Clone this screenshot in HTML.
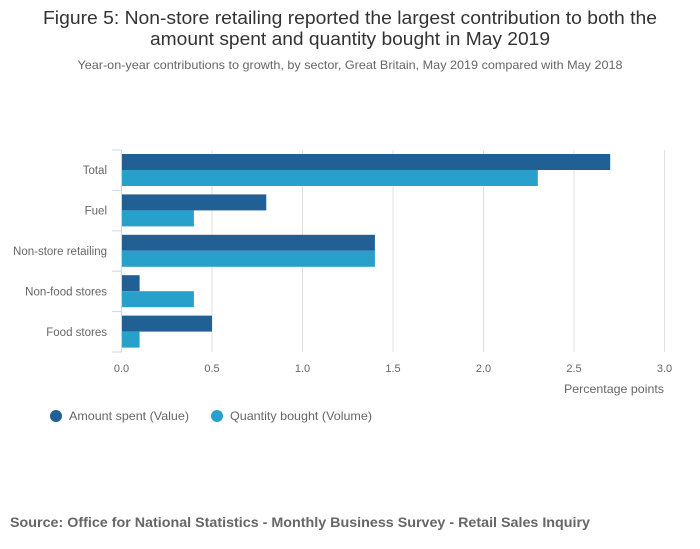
<!DOCTYPE html>
<html><head><meta charset="utf-8">
<style>
body{margin:0;background:#fff;font-family:"Liberation Sans",sans-serif;}
#wrap{position:relative;width:700px;height:549px;overflow:hidden;}
</style></head>
<body>
<div id="wrap">
<svg id="chart" width="700" height="549" xmlns="http://www.w3.org/2000/svg">
<text x="350" y="24" text-anchor="middle" font-size="18" fill="#333" textLength="614" lengthAdjust="spacingAndGlyphs">Figure 5: Non-store retailing reported the largest contribution to both the</text>
<text x="350" y="45" text-anchor="middle" font-size="18" fill="#333" textLength="400" lengthAdjust="spacingAndGlyphs">amount spent and quantity bought in May 2019</text>
<text x="350" y="69" text-anchor="middle" font-size="12" fill="#666" textLength="545" lengthAdjust="spacingAndGlyphs">Year-on-year contributions to growth, by sector, Great Britain, May 2019 compared with May 2018</text>
<g id="grid"></g>
<g id="bars"></g>
<g id="axes"></g>
<text x="664" y="393" text-anchor="end" font-size="12" fill="#666" textLength="100" lengthAdjust="spacingAndGlyphs">Percentage points</text>
<g>
<circle cx="56" cy="416" r="6" fill="#206095"/>
<text x="69" y="420" font-size="12" fill="#666" textLength="120" lengthAdjust="spacingAndGlyphs">Amount spent (Value)</text>
</g>
<g>
<circle cx="217" cy="416" r="6" fill="#27a0cc"/>
<text x="230" y="420" font-size="12" fill="#666" textLength="142" lengthAdjust="spacingAndGlyphs">Quantity bought (Volume)</text>
</g>
<text x="10" y="527" font-size="14" font-weight="bold" fill="#666" textLength="580" lengthAdjust="spacingAndGlyphs">Source: Office for National Statistics - Monthly Business Survey - Retail Sales Inquiry</text>
</svg>
</div>
<script>
const categories = ["Total","Fuel","Non-store retailing","Non-food stores","Food stores"];
const valueSeries = [2.7,0.8,1.4,0.1,0.5];
const volumeSeries = [2.3,0.4,1.4,0.4,0.1];
const xTicks = [0,0.5,1,1.5,2,2.5,3];
const xTickLabels = ["0.0","0.5","1.0","1.5","2.0","2.5","3.0"];

const NS="http://www.w3.org/2000/svg";
const x0=121.5, x1=664.5, y0=150, y1=352, xmax=3;
const xs=v=>x0+(v/xmax)*(x1-x0);
const band=(y1-y0)/categories.length;
const yb=i=>y0+i*band;
function mk(tag,attrs,parent){const e=document.createElementNS(NS,tag);for(const k in attrs)e.setAttribute(k,attrs[k]);parent.appendChild(e);return e;}
const grid=document.getElementById('grid'),bars=document.getElementById('bars'),axes=document.getElementById('axes');
xTicks.forEach((t,i)=>{
  if(t>0){const l=mk('line',{x1:xs(t),x2:xs(t),y1:y0,y2:y1,stroke:'#e0e0e0','stroke-width':1},grid);
  
  }
  const tx=mk('text',{x:xs(t),y:372,'text-anchor':'middle','font-size':11,fill:'#666'},axes);
  tx.textContent=xTickLabels[i];
  
  
});
categories.forEach((c,i)=>{
  const top=yb(i)+4;
  const r1=mk('rect',{x:x0,y:top,width:xs(valueSeries[i])-x0,height:16,fill:'#206095'},bars);
  
  
  const r2=mk('rect',{x:x0,y:top+16,width:xs(volumeSeries[i])-x0,height:16,fill:'#27a0cc'},bars);
  
  
  const t=mk('text',{x:107,y:yb(i)+band/2+4,'text-anchor':'end','font-size':11.5,fill:'#666'},axes);
  t.textContent=c;
  
  
});
for(let i=0;i<=categories.length;i++){
  const tk=mk('line',{x1:112,x2:x0,y1:yb(i),y2:yb(i),stroke:'#ccd6eb','stroke-width':1},axes);
  
  
}
const ax=mk('line',{x1:x0,x2:x0,y1:y0,y2:y1,stroke:'#ccd6eb','stroke-width':1},axes);


</script>
</body></html>
